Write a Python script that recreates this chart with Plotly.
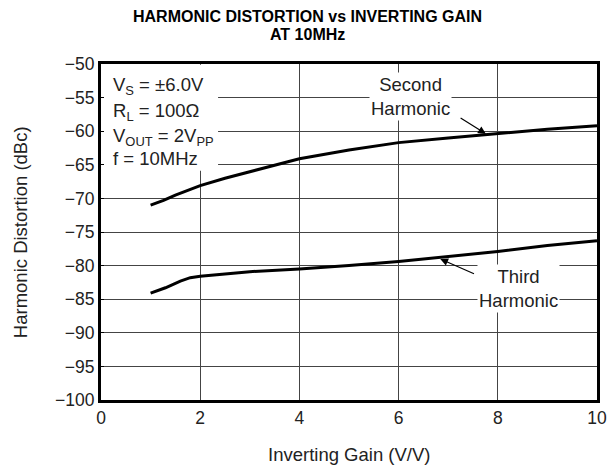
import plotly.graph_objects as go

gain_2nd = [1.0, 1.26, 1.5, 2.0, 2.5, 3.0, 3.5, 4.0, 5.0, 6.0, 7.0, 8.0, 9.0, 10.0]
hd2_dbc = [-71.0, -70.3, -69.5, -68.1, -67.0, -66.0, -65.1, -64.1, -62.8, -61.7, -61.0, -60.3, -59.7, -59.2]

gain_3rd = [1.0, 1.3, 1.6, 1.8, 2.0, 2.5, 3.0, 4.0, 4.5, 5.0, 6.0, 7.0, 8.0, 9.0, 10.0]
hd3_dbc = [-84.1, -83.3, -82.3, -81.8, -81.6, -81.2, -80.9, -80.5, -80.3, -80.0, -79.4, -78.7, -77.9, -77.0, -76.3]

x_ticks = [0, 2, 4, 6, 8, 10]
y_ticks = [-50, -55, -60, -65, -70, -75, -80, -85, -90, -95, -100]

FONT = "Liberation Sans, Arial, sans-serif"
GRID = "#444444"
TXT = "#222222"
FS = 17.5
FA = 18.5

fig = go.Figure()
fig.add_trace(go.Scatter(x=gain_2nd, y=hd2_dbc, mode="lines",
                         line=dict(color="black", width=3), showlegend=False))
fig.add_trace(go.Scatter(x=gain_3rd, y=hd3_dbc, mode="lines",
                         line=dict(color="black", width=3), showlegend=False))

# white box behind the conditions text
fig.add_shape(type="rect", xref="x", yref="y", x0=0.03, x1=2.36, y0=-65.9, y1=-50.1,
              fillcolor="white", line=dict(width=0), layer="between")

cond = ("V<sub>S</sub> = ±6.0V", "R<sub>L</sub> = 100Ω",
        "V<sub>OUT</sub> = 2V<sub>PP</sub>", "f = 10MHz")
cond_y = [-53.2, -57.1, -60.9, -64.1]
for t, yy in zip(cond, cond_y):
    fig.add_annotation(x=0.2, y=yy, xref="x", yref="y", text=t, showarrow=False,
                       xanchor="left", yanchor="middle",
                       font=dict(family=FONT, size=FA, color=TXT))

# labels with white background
fig.add_annotation(x=6.24, y=-54.85, xref="x", yref="y", text="Second<br>Harmonic",
                   showarrow=False, bgcolor="white", borderpad=1,
                   font=dict(family=FONT, size=FA, color=TXT))
fig.add_annotation(x=8.42, y=-83.4, xref="x", yref="y", text="Third<br>Harmonic",
                   showarrow=False, bgcolor="white", borderpad=1,
                   font=dict(family=FONT, size=FA, color=TXT))

# arrows
fig.add_annotation(x=7.76, y=-60.4, ax=7.22, ay=-57.9, xref="x", yref="y",
                   axref="x", ayref="y", text="", showarrow=True,
                   arrowhead=2, arrowsize=1.3, arrowwidth=1.2, arrowcolor="black")
fig.add_annotation(x=6.84, y=-79.0, ax=7.55, ay=-81.3, xref="x", yref="y",
                   axref="x", ayref="y", text="", showarrow=True,
                   arrowhead=2, arrowsize=1.3, arrowwidth=1.2, arrowcolor="black")

# title as two paper-anchored lines (centred on the whole figure)
fig.add_annotation(x=0.417, y=1.140, xref="paper", yref="paper",
                   text="<b>HARMONIC DISTORTION vs INVERTING GAIN</b>",
                   showarrow=False, xanchor="center", yanchor="middle",
                   font=dict(family=FONT, size=16, color="black"))
fig.add_annotation(x=0.417, y=1.087, xref="paper", yref="paper",
                   text="<b>AT 10MHz</b>",
                   showarrow=False, xanchor="center", yanchor="middle",
                   font=dict(family=FONT, size=16, color="black"))

# axis titles
fig.add_annotation(x=0.5, y=-0.161, xref="paper", yref="paper",
                   text="Inverting Gain (V/V)", showarrow=False,
                   xanchor="center", yanchor="middle",
                   font=dict(family=FONT, size=FA, color=TXT))
fig.add_annotation(x=-0.163, y=0.5, xref="paper", yref="paper",
                   text="Harmonic Distortion (dBc)", showarrow=False, textangle=-90,
                   xanchor="center", yanchor="middle",
                   font=dict(family=FONT, size=FA, color=TXT))

fig.update_layout(
    width=610, height=468,
    margin=dict(l=101, r=13, t=64, b=68, autoexpand=False),
    paper_bgcolor="white", plot_bgcolor="white",
    font=dict(family=FONT, size=FS, color=TXT),
)
fig.update_xaxes(range=[0, 10], tickvals=x_ticks, showgrid=True, gridcolor=GRID,
                 gridwidth=1, showline=True, linecolor="black", linewidth=3,
                 mirror=True, ticks="", zeroline=False, automargin=False,
                 tickfont=dict(size=FS))
fig.update_yaxes(range=[-100, -50], tickvals=y_ticks, showgrid=True, gridcolor=GRID,
                 gridwidth=1, showline=True, linecolor="black", linewidth=3,
                 mirror=True, ticks="inside", ticklen=3, tickcolor="black",
                 zeroline=False, automargin=False,
                 tickfont=dict(size=FS))

fig.write_html("out.html", config={"displayModeBar": False},
               post_script="document.body.style.margin='0';")
